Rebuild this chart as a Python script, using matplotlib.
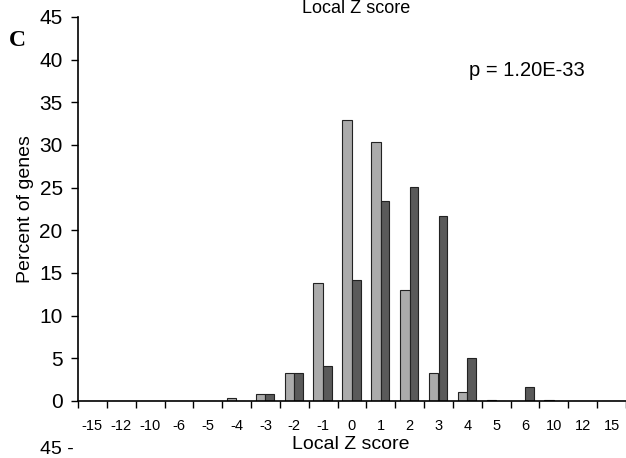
import matplotlib
matplotlib.use("Agg")
import matplotlib.pyplot as plt
import numpy as np

plt.rcParams['font.family'] = ['Liberation Sans', 'DejaVu Sans']

categories = ['-15', '-12', '-10', '-6', '-5', '-4', '-3', '-2', '-1', '0',
              '1', '2', '3', '4', '5', '6', '10', '12', '15']
light_vals = [0, 0, 0, 0.05, 0.05, 0.3, 0.8, 3.3, 13.8, 32.9,
              30.4, 13.0, 3.3, 1.0, 0.15, 0.05, 0.1, 0, 0]
dark_vals = [0, 0, 0, 0, 0, 0.05, 0.8, 3.3, 4.1, 14.2,
             23.4, 25.1, 21.7, 5.0, 0.05, 1.6, 0.05, 0, 0]
y_ticks = [0, 5, 10, 15, 20, 25, 30, 35, 40, 45]

fig = plt.figure(figsize=(6.26, 4.58), dpi=100)
ax = fig.add_axes([78/626, 57/458, 548/626, 384/458])

x = np.arange(len(categories))
ax.bar(x - 0.17, light_vals, 0.33, color='#ababab', edgecolor='#222222', linewidth=0.8)
ax.bar(x + 0.15, dark_vals, 0.30, color='#5a5a5a', edgecolor='#222222', linewidth=0.8)

ax.set_xlim(-0.5, len(categories) - 0.5)
ax.set_ylim(0, 45)
ax.set_yticks(y_ticks)
ax.tick_params(axis='y', labelsize=15, direction='out', length=5, width=1, pad=6)

# category labels centred, tick marks on the boundaries
ax.set_xticks(x)
ax.set_xticklabels(categories, fontsize=10.5)
ax.tick_params(axis='x', which='major', length=0, pad=13)
ax.set_xticks(np.arange(-0.5, len(categories)), minor=True)
ax.tick_params(axis='x', which='minor', length=5, width=1, direction='out')

for s in ['top', 'right']:
    ax.spines[s].set_visible(False)
ax.spines['left'].set_linewidth(1.2)
ax.spines['bottom'].set_linewidth(1.2)

ax.set_xlabel('Local Z score', fontsize=14)
ax.xaxis.set_label_coords(0.498, -0.09)
ax.set_ylabel('Percent of genes', fontsize=14)
ax.yaxis.set_label_coords(-0.08, 0.5)

fig.text(356/626, 1.0, 'Local Z score', ha='center', va='top', fontsize=13)
fig.text(17/626, 1 - 40/458, 'C', ha='center', va='center', fontsize=17,
         fontweight='bold', family='Liberation Serif')
fig.text(527/626, 1 - 71/458, 'p = 1.20E-33', ha='center', va='center', fontsize=14.5)
fig.text(57/626, 0.0, '45 -', ha='center', va='bottom', fontsize=14)

fig.savefig('out.png', dpi=100)
